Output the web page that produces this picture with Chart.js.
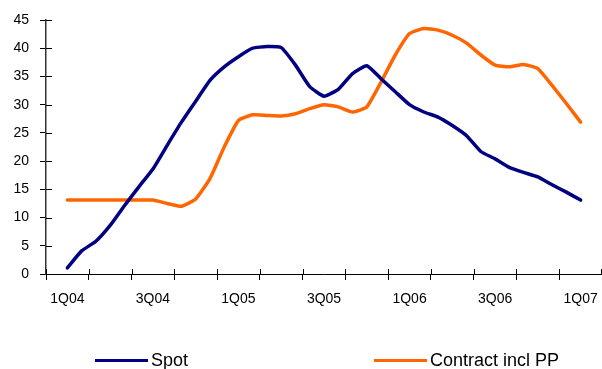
<!DOCTYPE html>
<html>
<head>
<meta charset="utf-8">
<script src="https://cdn.jsdelivr.net/npm/chart.js@4.4.1/dist/chart.umd.min.js"></script>
<style>
  html, body { margin: 0; padding: 0; background: #fff; }
  #wrap { position: relative; width: 602px; height: 369px; }
  .legend { position: absolute; top: 350px; height: 20px; line-height: 20px; font: 18px "Liberation Sans", Arial, sans-serif; color: #000; display: flex; align-items: center; white-space: nowrap; }
  .legend span.line { display: inline-block; width: 53px; height: 3px; margin-right: 3px; }
</style>
</head>
<body>
<div id="wrap">
  <canvas id="chart" width="602" height="369"></canvas>
  <div class="legend" style="left:95px"><span class="line" style="background:#000080"></span>Spot</div>
  <div class="legend" style="left:374px"><span class="line" style="background:#ff6600"></span>Contract incl PP</div>
</div>
<script>
// quarters shown on the axis (every other one gets a label)
const quarters = ['1Q04','2Q04','3Q04','4Q04','1Q05','2Q05','3Q05','4Q05','1Q06','2Q06','3Q06','4Q06','1Q07'];

// monthly readings, 1Q04 .. 1Q07
const spot = [1.1, 4.1, 5.8, 8.6, 12.1, 15.4, 18.6, 22.8, 26.9, 30.6, 34.3, 36.7, 38.5, 40.0, 40.3, 40.1,
  37.0, 33.2, 31.5, 32.7, 35.5, 36.9, 34.6, 32.3, 30.0, 28.7, 27.8, 26.3, 24.5, 21.7, 20.4, 18.9,
  18.0, 17.2, 15.8, 14.5, 13.1];
const contract = [13.1, 13.1, 13.1, 13.1, 13.1, 13.1, 13.1, 12.5, 12.0, 13.3, 16.9, 22.5, 27.2, 28.2, 28.1, 28.0,
  28.4, 29.3, 30.0, 29.6, 28.7, 29.6, 34.0, 38.8, 42.6, 43.5, 43.2, 42.3, 40.9, 38.8, 37.0, 36.7,
  37.1, 36.4, 33.4, 30.2, 26.9];

const yTicks = [0, 5, 10, 15, 20, 25, 30, 35, 40, 45];

const toPts = arr => arr.map((v, i) => ({ x: i, y: v }));

// tick marks cross the axis lines, draw the inner half here
const innerTicks = {
  id: 'innerTicks',
  afterDraw(chart) {
    const { ctx, chartArea, scales } = chart;
    ctx.save();
    ctx.strokeStyle = '#000';
    ctx.lineWidth = 1;
    ctx.beginPath();
    yTicks.forEach(v => {
      const y = Math.round(scales.y.getPixelForValue(v)) + 0.5;
      ctx.moveTo(chartArea.left, y);
      ctx.lineTo(chartArea.left + 6, y);
    });
    for (let i = 0; i <= quarters.length; i++) {
      const x = Math.min(Math.round(scales.xm.getPixelForValue(-1.5 + 3 * i)) + 0.5, chartArea.right - 0.5);
      ctx.moveTo(x, chartArea.bottom);
      ctx.lineTo(x, chartArea.bottom - 5);
    }
    ctx.stroke();
    ctx.restore();
  }
};

Chart.defaults.font.family = '"Liberation Sans", Arial, sans-serif';
Chart.defaults.color = '#000';

new Chart(document.getElementById('chart'), {
  type: 'line',
  data: {
    labels: quarters,
    datasets: [
      { label: 'Spot', data: toPts(spot), xAxisID: 'xm', borderColor: '#000080', borderWidth: 3.5,
        pointRadius: 0, tension: 0.15, borderCapStyle: 'round', borderJoinStyle: 'round' },
      { label: 'Contract incl PP', data: toPts(contract), xAxisID: 'xm', borderColor: '#ff6600', borderWidth: 3.5,
        pointRadius: 0, tension: 0.15, borderCapStyle: 'round', borderJoinStyle: 'round' }
    ]
  },
  options: {
    responsive: false,
    animation: false,
    layout: { padding: { top: 20, right: 0, bottom: 61, left: 0 } },
    plugins: { legend: { display: false }, tooltip: { enabled: false } },
    scales: {
      x: {
        type: 'category',
        offset: true,
        grid: { offset: true, drawOnChartArea: false, tickLength: 6, color: '#000' },
        border: { color: '#000', width: 1 },
        ticks: { autoSkip: false, maxRotation: 0, padding: 11, font: { size: 14 },
          callback: (v, i) => i % 2 === 0 ? quarters[i] : '' },
        afterFit: s => { s.height = 34; s.paddingLeft = 0; s.paddingRight = 0; }
      },
      xm: { type: 'linear', display: false, min: -1.5, max: 37.5 },
      y: {
        min: 0, max: 45,
        afterBuildTicks: s => { s.ticks = yTicks.map(v => ({ value: v })); },
        grid: { drawOnChartArea: false, tickLength: 6, color: '#000' },
        border: { color: '#333', width: 1.5 },
        ticks: { padding: 11, font: { size: 14 } },
        afterFit: s => { s.width = 46; }
      }
    }
  },
  plugins: [innerTicks]
});
</script>
</body>
</html>
